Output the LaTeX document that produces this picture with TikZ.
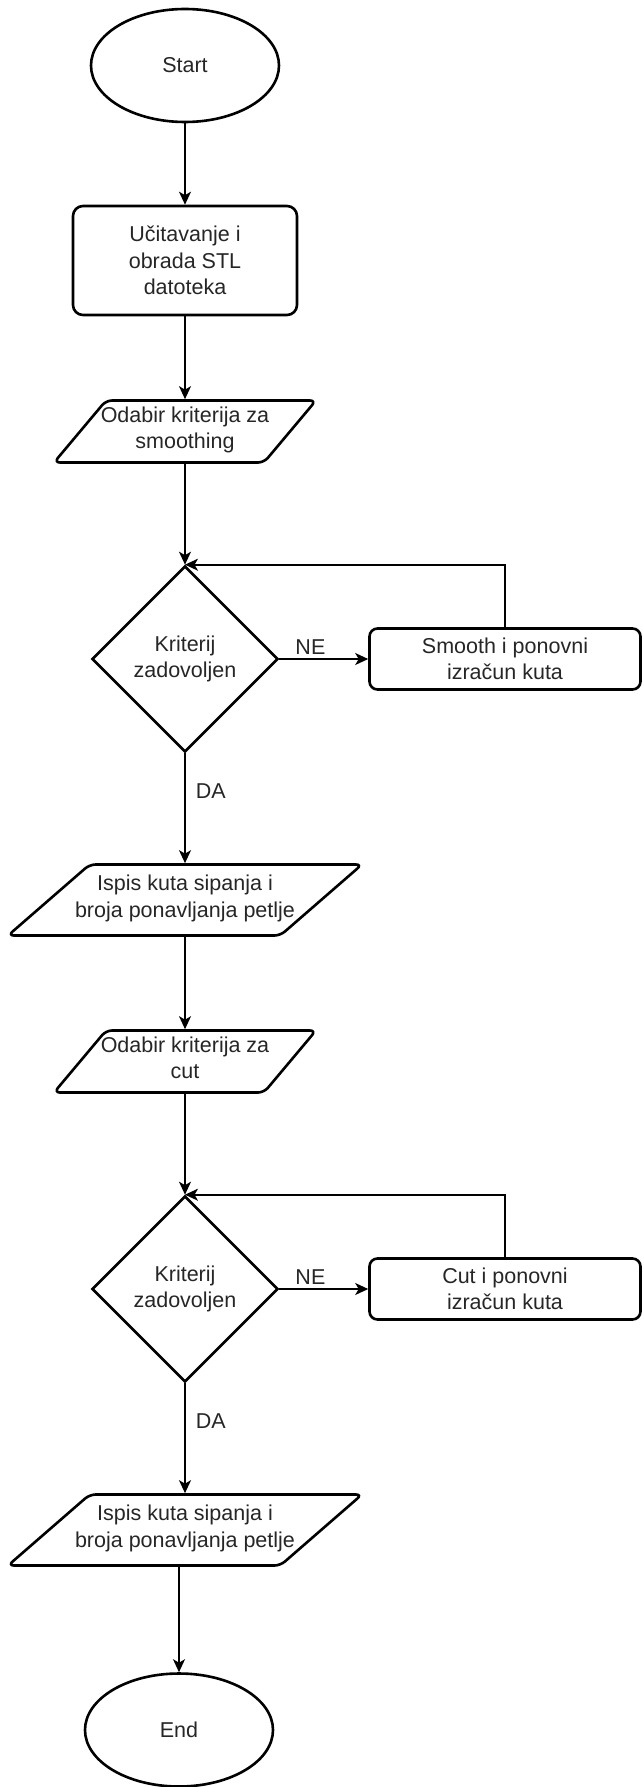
\documentclass[tikz,border=0pt]{standalone}
\usepackage{fontspec}
\setmainfont{Liberation Sans}
\usetikzlibrary{shapes.geometric,arrows.meta}
\begin{document}
\begin{tikzpicture}[x=1pt,y=-1pt,
  font=\fontsize{21.5}{26.5}\selectfont,
  term/.style={ellipse, draw, line width=2.6pt, minimum width=188pt, minimum height=113pt, inner sep=0pt, text=black!85},
  proc/.style={rectangle, rounded corners=10pt, draw, line width=2.6pt, inner sep=0pt, align=center, text=black!85},
  dataio/.style={trapezium, trapezium stretches body, rounded corners=6pt, draw, line width=2.6pt, inner xsep=-50pt, align=center, text=black!85,
    execute at begin node=\strut, execute at end node=\strut},
  decide/.style={diamond, draw, line width=2.6pt, minimum width=186pt, minimum height=186pt, inner sep=0pt, align=center, text=black!85},
  flow/.style={line width=1.6pt, -{Stealth[length=13pt,width=12pt,inset=3.5pt]}},
  lbl/.style={inner sep=2pt, text=black!85}]
\useasboundingbox (0,0) rectangle (643,1787);
\node[term] (start) at (185,65.5) {Start};
\node[proc, minimum width=224pt, minimum height=109pt] (load) at (185,260.5) {Učitavanje i\\obrada STL\\datoteka};
\node[dataio, trapezium left angle=50, trapezium right angle=130, minimum width=262pt, inner ysep=6pt] (smcrit) at (185,431.5) {Odabir kriterija za\\smoothing};
\node[decide] (smtest) at (185,659) {Kriterij\\zadovoljen};
\node[proc, rounded corners=8pt, minimum width=271pt, minimum height=61pt] (smooth) at (505,659) {Smooth i ponovni\\izračun kuta};
\node[dataio, trapezium left angle=41, trapezium right angle=139, minimum width=354pt, inner ysep=10.5pt] (smout) at (185,900) {Ispis kuta sipanja i\\broja ponavljanja petlje};
\node[dataio, trapezium left angle=50, trapezium right angle=130, minimum width=262pt, inner ysep=6pt] (ctcrit) at (185,1061.5) {Odabir kriterija za\\cut};
\node[decide] (cttest) at (185,1289) {Kriterij\\zadovoljen};
\node[proc, rounded corners=8pt, minimum width=271pt, minimum height=61pt] (cut) at (505,1289) {Cut i ponovni\\izračun kuta};
\node[dataio, trapezium left angle=41, trapezium right angle=139, minimum width=354pt, inner ysep=10.5pt] (ctout) at (185,1530) {Ispis kuta sipanja i\\broja ponavljanja petlje};
\node[term] (stop) at (179,1730) {End};
\draw[flow] (start) -- (load);
\draw[flow] (load) -- (smcrit);
\draw[flow] (smcrit) -- (smtest);
\draw[flow] (smtest) -- node[lbl, pos=0.35, above=2pt] {NE} (smooth);
\draw[flow] (smooth.north) |- (smtest.north);
\draw[flow] (smtest) -- node[lbl, pos=0.34, right=8pt] {DA} (smout);
\draw[flow] (smout) -- (ctcrit);
\draw[flow] (ctcrit) -- (cttest);
\draw[flow] (cttest) -- node[lbl, pos=0.35, above=2pt] {NE} (cut);
\draw[flow] (cut.north) |- (cttest.north);
\draw[flow] (cttest) -- node[lbl, pos=0.34, right=8pt] {DA} (ctout);
\draw[flow] (ctout.south -| stop) -- (stop);
\end{tikzpicture}
\end{document}
